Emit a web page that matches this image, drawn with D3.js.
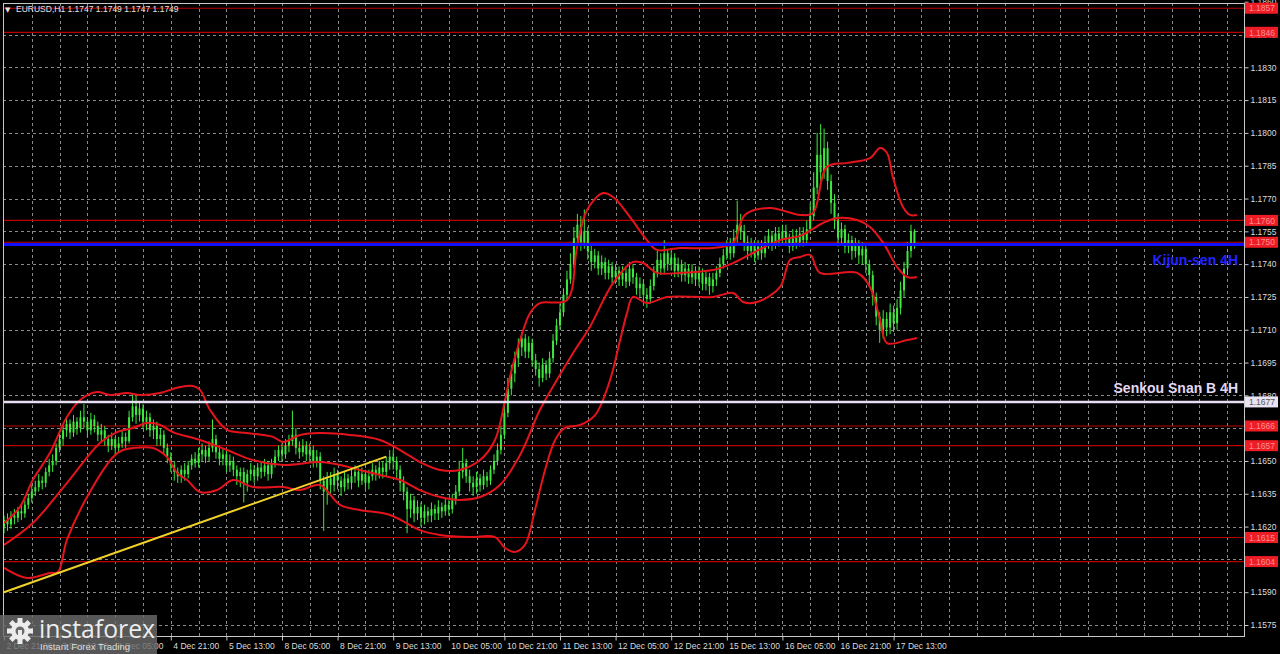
<!DOCTYPE html>
<html><head><meta charset="utf-8">
<script src="https://cdn.jsdelivr.net/npm/d3@7"></script>
<style>html,body{margin:0;padding:0;background:#000;overflow:hidden}</style>
</head><body><svg id="c" width="1280" height="654"></svg>
<script>
// ---------- DATA ----------
const symbolTitle = "EURUSD,H1  1.1747 1.1749 1.1747 1.1749";
const firstOpen = 1.1620;
const closes = [
1.1623,1.1621,1.1625,1.1624,1.1627,1.1626,1.1630,1.1633,1.1636,1.1638,
1.1641,1.1640,1.1645,1.1648,1.1650,1.1656,1.1660,1.1664,1.1667,1.1663,
1.1668,1.1665,1.1670,1.1668,1.1664,1.1669,1.1666,1.1662,1.1664,1.1660,
1.1657,1.1660,1.1656,1.1658,1.1661,1.1659,1.1670,1.1675,1.1671,1.1674,
1.1668,1.1670,1.1664,1.1666,1.1660,1.1662,1.1656,1.1652,1.1648,1.1645,
1.1643,1.1646,1.1644,1.1648,1.1651,1.1649,1.1653,1.1655,1.1652,1.1656,
1.1660,1.1654,1.1651,1.1653,1.1648,1.1650,1.1646,1.1643,1.1645,1.1640,
1.1644,1.1646,1.1643,1.1647,1.1645,1.1648,1.1644,1.1649,1.1652,1.1655,
1.1653,1.1657,1.1659,1.1662,1.1656,1.1654,1.1657,1.1653,1.1655,1.1650,
1.1652,1.1641,1.1636,1.1642,1.1639,1.1644,1.1641,1.1638,1.1642,1.1640,
1.1643,1.1645,1.1641,1.1644,1.1640,1.1643,1.1646,1.1644,1.1647,1.1645,
1.1649,1.1652,1.1650,1.1646,1.1640,1.1636,1.1628,1.1632,1.1626,1.1629,
1.1624,1.1627,1.1625,1.1628,1.1626,1.1629,1.1627,1.1630,1.1628,1.1632,
1.1636,1.1645,1.1649,1.1643,1.1640,1.1638,1.1642,1.1639,1.1643,1.1641,
1.1646,1.1650,1.1655,1.1662,1.1672,1.1683,1.1690,1.1697,1.1702,1.1706,
1.1700,1.1704,1.1696,1.1692,1.1688,1.1694,1.1690,1.1697,1.1705,1.1712,
1.1718,1.1726,1.1733,1.1740,1.1752,1.1758,1.1750,1.1755,1.1746,1.1741,
1.1744,1.1738,1.1741,1.1736,1.1739,1.1734,1.1737,1.1733,1.1736,1.1732,
1.1738,1.1734,1.1729,1.1731,1.1726,1.1724,1.1730,1.1736,1.1742,1.1738,
1.1745,1.1740,1.1743,1.1737,1.1740,1.1735,1.1738,1.1734,1.1737,1.1733,
1.1736,1.1731,1.1734,1.1730,1.1733,1.1736,1.1740,1.1744,1.1748,1.1745,
1.1752,1.1758,1.1755,1.1750,1.1746,1.1749,1.1744,1.1748,1.1745,1.1750,
1.1753,1.1749,1.1754,1.1751,1.1755,1.1752,1.1748,1.1753,1.1750,1.1754,
1.1751,1.1756,1.1762,1.1775,1.1790,1.1782,1.1793,1.1778,1.1768,1.1760,
1.1752,1.1756,1.1748,1.1751,1.1746,1.1749,1.1744,1.1747,1.1740,1.1735,
1.1725,1.1716,1.1710,1.1715,1.1711,1.1718,1.1713,1.1720,1.1728,1.1738,
1.1746,1.1755,1.1749];
const highs = [
1.1625,1.1626,1.1627,1.1628,1.1629,1.1630,1.1632,1.1635,1.1639,1.1641,
1.1644,1.1643,1.1647,1.1651,1.1653,1.1658,1.1663,1.1666,1.1670,1.1669,
1.1671,1.1670,1.1673,1.1676,1.1670,1.1672,1.1671,1.1668,1.1667,1.1666,
1.1662,1.1663,1.1661,1.1661,1.1664,1.1663,1.1673,1.1681,1.1680,1.1677,
1.1676,1.1673,1.1672,1.1669,1.1668,1.1665,1.1664,1.1658,1.1654,1.1650,
1.1647,1.1648,1.1649,1.1650,1.1653,1.1654,1.1656,1.1658,1.1657,1.1659,
1.1669,1.1662,1.1657,1.1656,1.1655,1.1653,1.1652,1.1648,1.1647,1.1647,
1.1646,1.1649,1.1648,1.1649,1.1650,1.1651,1.1650,1.1651,1.1655,1.1657,
1.1658,1.1660,1.1662,1.1673,1.1665,1.1659,1.1660,1.1659,1.1658,1.1657,
1.1655,1.1654,1.1643,1.1645,1.1645,1.1647,1.1646,1.1643,1.1645,1.1644,
1.1646,1.1648,1.1647,1.1647,1.1646,1.1646,1.1649,1.1648,1.1650,1.1650,
1.1652,1.1655,1.1655,1.1652,1.1648,1.1643,1.1638,1.1635,1.1634,1.1632,
1.1631,1.1630,1.1629,1.1631,1.1630,1.1632,1.1631,1.1633,1.1632,1.1635,
1.1639,1.1650,1.1656,1.1651,1.1646,1.1643,1.1645,1.1644,1.1646,1.1645,
1.1648,1.1653,1.1658,1.1666,1.1676,1.1688,1.1694,1.1700,1.1706,1.1709,
1.1708,1.1707,1.1706,1.1699,1.1695,1.1697,1.1696,1.1700,1.1708,1.1715,
1.1722,1.1729,1.1737,1.1745,1.1757,1.1763,1.1762,1.1765,1.1757,1.1749,
1.1747,1.1746,1.1744,1.1743,1.1742,1.1741,1.1740,1.1739,1.1739,1.1738,
1.1741,1.1740,1.1736,1.1734,1.1733,1.1729,1.1733,1.1739,1.1746,1.1745,
1.1751,1.1747,1.1746,1.1745,1.1743,1.1742,1.1741,1.1740,1.1740,1.1739,
1.1739,1.1738,1.1737,1.1736,1.1736,1.1739,1.1743,1.1747,1.1751,1.1752,
1.1756,1.1769,1.1763,1.1758,1.1753,1.1752,1.1751,1.1751,1.1751,1.1753,
1.1756,1.1755,1.1757,1.1757,1.1758,1.1758,1.1754,1.1756,1.1756,1.1757,
1.1757,1.1760,1.1768,1.1782,1.1800,1.1804,1.1802,1.1796,1.1781,1.1772,
1.1763,1.1759,1.1758,1.1754,1.1753,1.1752,1.1751,1.1750,1.1749,1.1742,
1.1737,1.1727,1.1718,1.1719,1.1718,1.1722,1.1721,1.1724,1.1732,1.1741,
1.1750,1.1758,1.1756];
const lows = [
1.1617,1.1618,1.1619,1.1621,1.1622,1.1623,1.1624,1.1628,1.1631,1.1634,
1.1636,1.1637,1.1638,1.1643,1.1645,1.1648,1.1654,1.1657,1.1661,1.1660,
1.1661,1.1662,1.1663,1.1665,1.1661,1.1662,1.1663,1.1659,1.1659,1.1657,
1.1654,1.1655,1.1653,1.1654,1.1656,1.1656,1.1658,1.1668,1.1667,1.1668,
1.1665,1.1664,1.1661,1.1660,1.1657,1.1657,1.1653,1.1649,1.1645,1.1641,
1.1640,1.1640,1.1641,1.1642,1.1646,1.1647,1.1647,1.1650,1.1649,1.1650,
1.1654,1.1651,1.1648,1.1648,1.1645,1.1645,1.1643,1.1639,1.1638,1.1631,
1.1636,1.1641,1.1640,1.1641,1.1642,1.1643,1.1641,1.1642,1.1647,1.1650,
1.1650,1.1651,1.1654,1.1657,1.1653,1.1651,1.1652,1.1650,1.1650,1.1647,
1.1647,1.1637,1.1618,1.1630,1.1635,1.1636,1.1637,1.1634,1.1636,1.1637,
1.1637,1.1640,1.1638,1.1639,1.1637,1.1637,1.1641,1.1641,1.1642,1.1642,
1.1643,1.1646,1.1646,1.1642,1.1636,1.1632,1.1617,1.1624,1.1622,1.1623,
1.1620,1.1621,1.1622,1.1622,1.1623,1.1623,1.1624,1.1625,1.1625,1.1626,
1.1630,1.1634,1.1642,1.1640,1.1636,1.1634,1.1635,1.1636,1.1637,1.1638,
1.1639,1.1644,1.1648,1.1653,1.1660,1.1670,1.1680,1.1686,1.1693,1.1698,
1.1697,1.1697,1.1693,1.1689,1.1684,1.1686,1.1687,1.1688,1.1695,1.1703,
1.1710,1.1716,1.1723,1.1731,1.1738,1.1748,1.1746,1.1747,1.1742,1.1737,
1.1738,1.1735,1.1735,1.1733,1.1733,1.1731,1.1731,1.1730,1.1730,1.1729,
1.1730,1.1731,1.1726,1.1725,1.1722,1.1720,1.1722,1.1728,1.1734,1.1735,
1.1736,1.1737,1.1737,1.1734,1.1734,1.1732,1.1732,1.1731,1.1731,1.1730,
1.1730,1.1728,1.1728,1.1726,1.1727,1.1730,1.1734,1.1738,1.1742,1.1742,
1.1743,1.1750,1.1751,1.1746,1.1742,1.1743,1.1741,1.1742,1.1742,1.1743,
1.1747,1.1746,1.1747,1.1748,1.1749,1.1749,1.1745,1.1746,1.1747,1.1748,
1.1748,1.1749,1.1754,1.1760,1.1772,1.1778,1.1779,1.1774,1.1763,1.1756,
1.1748,1.1749,1.1745,1.1745,1.1742,1.1743,1.1740,1.1740,1.1736,1.1730,
1.1721,1.1712,1.1704,1.1706,1.1707,1.1708,1.1709,1.1710,1.1717,1.1725,
1.1735,1.1743,1.1747];

// Bollinger-style envelope: [bar index, price]
const upperBand = [[0,1.16216],[4.6,1.16290],[8.3,1.16413],[13.2,1.16536],[18.1,1.16701],[21.9,1.16779],[26.8,1.16815],[30.5,1.16802],[35.4,1.16811],[39.1,1.16802],[44.9,1.16811],[50.6,1.16838],[54.4,1.16843],[56.4,1.16825],[59.3,1.16733],[64.2,1.16642],[69.9,1.16628],[77.4,1.16610],[80.3,1.16587],[85.2,1.16619],[90.9,1.16628],[99.6,1.16619],[108.2,1.16596],[114,1.16550],[119.7,1.16495],[125.5,1.16459],[131.2,1.16459],[137,1.16504],[141.3,1.16596],[144.2,1.16779],[145.6,1.16884],[148.5,1.17053],[151.4,1.17177],[154.2,1.17222],[162,1.17236],[164.9,1.17478],[167.8,1.17648],[172.4,1.17725],[175.3,1.17707],[180.1,1.17616],[185,1.17510],[187.9,1.17465],[194.5,1.17474],[204,1.17474],[209.8,1.17497],[213.2,1.17625],[220.4,1.17657],[229.1,1.17625],[232.8,1.17634],[236.8,1.17844],[242.6,1.17863],[249.2,1.17885],[252.1,1.17931],[254.1,1.17908],[255.8,1.17798],[258.7,1.17661],[260.7,1.17625],[262.7,1.17625]];
const middleBand = [[0,1.16116],[8.3,1.16216],[18.1,1.16399],[27.6,1.16582],[32.5,1.16632],[37.1,1.16651],[41.2,1.16674],[44.9,1.16665],[48.6,1.16632],[56.4,1.16596],[64.2,1.16550],[71.7,1.16504],[80.3,1.16482],[90.9,1.16495],[96.7,1.16482],[102.4,1.16459],[108.2,1.16436],[114,1.16413],[119.7,1.16367],[125.5,1.16335],[131.2,1.16322],[137,1.16335],[142.7,1.16390],[148.5,1.16527],[154.2,1.16733],[159.1,1.16870],[164.3,1.17007],[168.6,1.17113],[175.3,1.17314],[181,1.17410],[183.9,1.17405],[187.9,1.17360],[194.5,1.17360],[204,1.17373],[209.8,1.17405],[215.5,1.17451],[223.3,1.17510],[229.1,1.17529],[235.7,1.17588],[239.7,1.17611],[245.5,1.17602],[249.2,1.17570],[253,1.17497],[257,1.17387],[259.9,1.17341],[262.7,1.17341]];
const lowerBand = [[0,1.16011],[6.6,1.15965],[13.2,1.15988],[15.5,1.15992],[18.1,1.16139],[23.9,1.16335],[31.4,1.16518],[34.2,1.16550],[37.1,1.16559],[42.9,1.16559],[46.9,1.16518],[49.8,1.16445],[52.7,1.16413],[56.4,1.16358],[61.3,1.16367],[65.9,1.16413],[71.7,1.16381],[80.3,1.16381],[85.2,1.16367],[90.9,1.16390],[96.7,1.16299],[102.4,1.16276],[111.1,1.16253],[119.7,1.16184],[125.5,1.16162],[134.1,1.16152],[141.3,1.16152],[144.2,1.16102],[147,1.16084],[149.9,1.16116],[152.8,1.16276],[155.7,1.16459],[158.6,1.16596],[161.4,1.16651],[165.8,1.16665],[170.1,1.16710],[174.4,1.16870],[177.3,1.17053],[179.3,1.17177],[181,1.17250],[185,1.17222],[190.8,1.17250],[204,1.17250],[209.8,1.17268],[212.7,1.17227],[216.7,1.17227],[223.3,1.17295],[226.2,1.17419],[229.1,1.17433],[232,1.17442],[234.8,1.17360],[245.5,1.17360],[249.2,1.17295],[252.1,1.17145],[254.1,1.17039],[259.9,1.17053],[262.7,1.17062]];

const trendLine = [[0,1.1590],[110,1.1652]];
const levelPrices = [1.1857,1.1846,1.1760,1.1750,1.1666,1.1657,1.1615,1.1604];
const kijunPrice = 1.1749;
const kijunName = "Kijun-sen 4H";
const senkouPrice = 1.1677;
const senkouName = "Senkou Snan B 4H";
const yTickValues = [1.1575,1.1590,1.1605,1.1620,1.1635,1.1650,1.1665,1.1680,1.1695,1.1710,1.1725,1.1740,1.1755,1.1770,1.1785,1.1800,1.1815,1.1830,1.1845,1.1860];
const xTickBars = [0,16,32,48,64,80,96,112,128,144,160,176,192,208,224,240,256];
const xTickLabels = ["2 Dec 21:00","3 Dec 13:00","4 Dec 05:00","4 Dec 21:00","5 Dec 13:00","8 Dec 05:00","8 Dec 21:00","9 Dec 13:00","10 Dec 05:00","10 Dec 21:00","11 Dec 13:00","12 Dec 05:00","12 Dec 21:00","15 Dec 13:00","16 Dec 05:00","16 Dec 21:00","17 Dec 13:00"];

// ---------- DRAW ----------
const W = 1280, H = 654;
const P = {l:3, t:3, r:1244, b:636};
const svg = d3.select('#c');
const x = d3.scaleLinear().domain([0,256]).range([4,893.6]);
const y = d3.scaleLinear().domain([1.1575,1.1860]).range([625,1.7]);
const FONT = "'Liberation Sans', Arial, sans-serif";

svg.append('rect').attr('width',W).attr('height',H).attr('fill','#000');
svg.append('defs').append('clipPath').attr('id','clip')
  .append('rect').attr('x',P.l).attr('y',P.t).attr('width',P.r-P.l).attr('height',P.b-P.t);

const plot = svg.append('g').attr('clip-path','url(#clip)');

// grid
plot.selectAll('.hg').data(yTickValues).enter().append('line')
  .attr('x1',P.l).attr('x2',P.r).attr('y1',d=>Math.round(y(d))+0.5).attr('y2',d=>Math.round(y(d))+0.5)
  .attr('stroke','#8a8a8a').attr('stroke-width',1).attr('stroke-dasharray','3,3');
const vgrid = d3.range(8, 360, 8);
plot.selectAll('.vg').data(vgrid).enter().append('line')
  .attr('y1',P.t).attr('y2',P.b).attr('x1',d=>Math.round(x(d))+0.5).attr('x2',d=>Math.round(x(d))+0.5)
  .attr('stroke','#8a8a8a').attr('stroke-width',1).attr('stroke-dasharray','3,3');

// level lines
plot.selectAll('.lv').data(levelPrices).enter().append('line')
  .attr('x1',P.l).attr('x2',P.r).attr('y1',d=>y(d)).attr('y2',d=>y(d))
  .attr('stroke','#b80000').attr('stroke-width',1.2);

// candles
const candles = closes.map((c,i)=>({i, o: i===0?firstOpen:closes[i-1], h:highs[i], l:lows[i], c}));
const cg = plot.append('g');
cg.selectAll('.wk').data(candles).enter().append('line')
  .attr('x1',d=>x(d.i)).attr('x2',d=>x(d.i)).attr('y1',d=>y(d.h)).attr('y2',d=>y(d.l))
  .attr('stroke','#3ee83e').attr('stroke-width',1);
cg.selectAll('.bd').data(candles).enter().append('rect')
  .attr('x',d=>x(d.i)-1).attr('width',2)
  .attr('y',d=>y(Math.max(d.o,d.c)))
  .attr('height',d=>Math.max(1,Math.abs(y(d.o)-y(d.c))))
  .attr('fill','#3ee83e');

// bands
const line = d3.line().x(d=>x(d[0])).y(d=>y(d[1])).curve(d3.curveCatmullRom.alpha(0.5));
[upperBand, middleBand, lowerBand].forEach(b=>{
  plot.append('path').attr('d',line(b)).attr('fill','none').attr('stroke','#e5141c').attr('stroke-width',2);
});

// trend line
plot.append('line').attr('x1',x(trendLine[0][0])).attr('y1',y(trendLine[0][1]))
  .attr('x2',x(trendLine[1][0])).attr('y2',y(trendLine[1][1]))
  .attr('stroke','#f2d22a').attr('stroke-width',2);

// Senkou span B
plot.append('line').attr('x1',P.l).attr('x2',P.r).attr('y1',y(senkouPrice)).attr('y2',y(senkouPrice))
  .attr('stroke','#e6def2').attr('stroke-width',2.5);
// Kijun
plot.append('line').attr('x1',P.l).attr('x2',P.r).attr('y1',y(kijunPrice)).attr('y2',y(kijunPrice))
  .attr('stroke','#1010ff').attr('stroke-width',3);

// names
svg.append('text').attr('x',1238).attr('y',y(kijunPrice)+21).attr('text-anchor','end')
  .attr('font-family',FONT).attr('font-weight','bold').attr('font-size',14)
  .attr('fill','#2323ff').text(kijunName);
svg.append('text').attr('x',1238).attr('y',y(senkouPrice)-9).attr('text-anchor','end')
  .attr('font-family',FONT).attr('font-weight','bold').attr('font-size',14)
  .attr('fill','#e2d8f2').text(senkouName);

// frame
svg.append('rect').attr('x',P.l+0.5).attr('y',P.t+0.5).attr('width',P.r-P.l).attr('height',P.b-P.t)
  .attr('fill','none').attr('stroke','#c8c8c8').attr('stroke-width',1);

// right axis
const ya = svg.append('g').attr('transform',`translate(${P.r+0.5},0)`)
  .call(d3.axisRight(y).tickValues(yTickValues).tickSize(4).tickPadding(2).tickFormat(d3.format('.4f')));
ya.select('.domain').remove();
ya.selectAll('line').attr('stroke','#c8c8c8');
ya.selectAll('text').attr('fill','#dcdcdc').attr('font-family',FONT).attr('font-size',8.5);

// bottom axis
const xa = svg.append('g').attr('transform',`translate(0,${P.b+0.5})`)
  .call(d3.axisBottom(x).tickValues(xTickBars).tickSize(4).tickPadding(2).tickFormat((d,i)=>xTickLabels[i]));
xa.select('.domain').remove();
xa.selectAll('line').attr('stroke','#c8c8c8');
xa.selectAll('text').attr('fill','#dcdcdc').attr('font-family',FONT).attr('font-size',8.5)
  .attr('text-anchor','start').attr('dx',2);

// price boxes
const lb = svg.append('g');
levelPrices.forEach(p=>{
  lb.append('rect').attr('x',P.r+1).attr('y',y(p)-5.5).attr('width',33).attr('height',11).attr('fill','#ee1c24');
  lb.append('text').attr('x',P.r+5).attr('y',y(p)+3.2).attr('font-family',FONT).attr('font-size',8.5)
    .attr('fill','#ff8f8f').text(d3.format('.4f')(p));
});
lb.append('rect').attr('x',P.r+1).attr('y',y(senkouPrice)-5.5).attr('width',33).attr('height',11).attr('fill','#e8e2f2');
lb.append('text').attr('x',P.r+5).attr('y',y(senkouPrice)+3.2).attr('font-family',FONT).attr('font-size',8.5)
  .attr('fill','#555').text(d3.format('.4f')(senkouPrice));

// title
svg.append('text').attr('x',5).attr('y',12).attr('font-family','DejaVu Sans').attr('font-size',7).attr('fill','#e8e0e0').text('▼');
svg.append('text').attr('x',16).attr('y',12).attr('font-family',FONT).attr('font-size',8.5)
  .attr('fill','#e8e0e0').text(symbolTitle);

// logo
const lg = svg.append('g');
lg.append('rect').attr('x',0).attr('y',615).attr('width',157).attr('height',39).attr('fill','#6a6a6a').attr('opacity',0.82);
const gear = lg.append('g').attr('transform','translate(20,631)');
d3.range(8).forEach(k=>{
  gear.append('rect').attr('x',-2.5).attr('y',-13).attr('width',5).attr('height',6)
    .attr('fill','#ececec').attr('transform',`rotate(${k*45})`);
});
gear.append('circle').attr('r',9).attr('fill','#ececec');
gear.append('circle').attr('r',4.5).attr('fill','#6a6a6a');
gear.append('rect').attr('x',-2).attr('y',-1).attr('width',4).attr('height',14).attr('fill','#ececec');
lg.append('text').attr('x',39).attr('y',638).attr('font-family',"'Open Sans', sans-serif").attr('font-size',25)
  .attr('textLength',116).attr('lengthAdjust','spacingAndGlyphs').attr('fill','#ececec').text('instaforex');
lg.append('text').attr('x',40).attr('y',650).attr('font-family',FONT).attr('font-size',9)
  .attr('textLength',90).attr('lengthAdjust','spacingAndGlyphs').attr('fill','#dedede').text('Instant Forex Trading');
</script></body></html>
